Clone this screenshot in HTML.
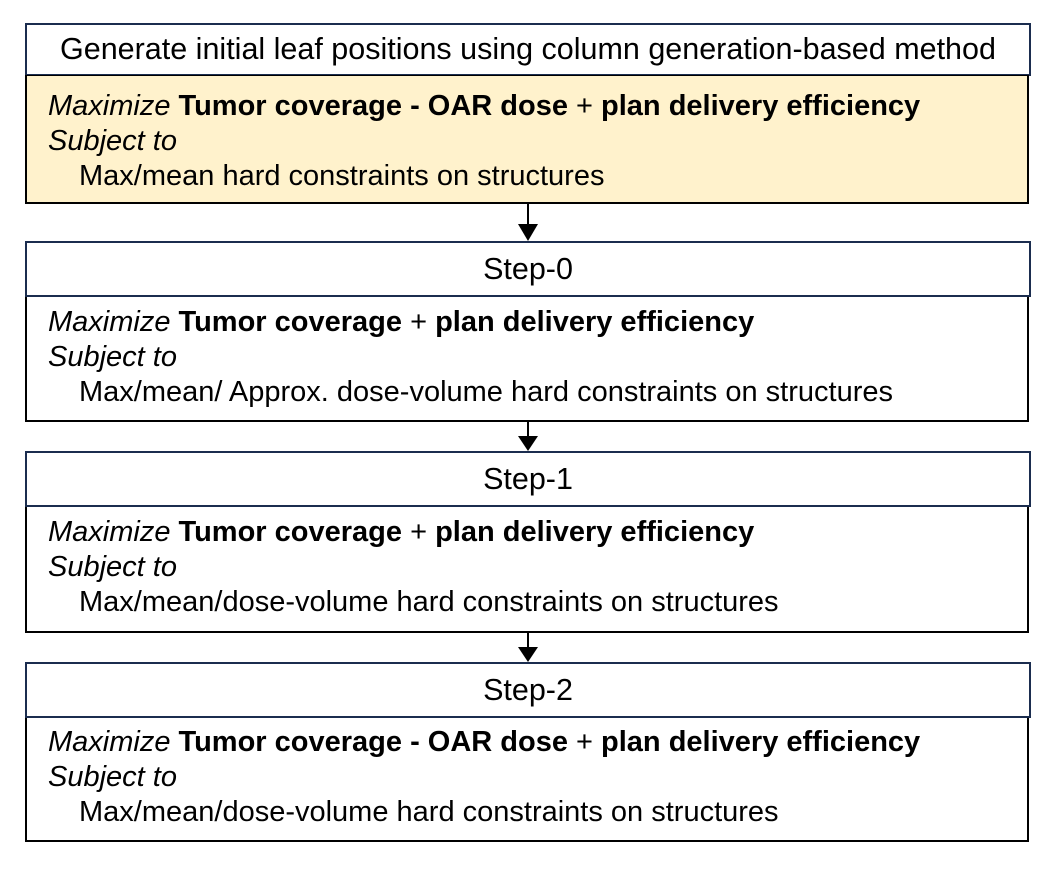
<!DOCTYPE html>
<html><head><style>
body{margin:0;width:1046px;height:869px;background:#fff;position:relative;font-family:"Liberation Sans",Arial,sans-serif;font-size:29px;color:#000;overflow:hidden}
.h{position:absolute;left:25px;width:1006px;border:2px solid #1b2d4f;background:#fff;text-align:center;box-sizing:border-box;font-size:30.5px}
.b{position:absolute;left:25px;width:1004px;border:2px solid #000;border-top:none;box-sizing:border-box;padding-left:21px;line-height:35px;padding-top:13px;font-size:29px}
.i{font-style:italic}
.ind{padding-left:31px}
.a{position:absolute;left:527px;width:1.5px;background:#000}
.t{position:absolute;left:518px;width:0;height:0;border-left:10px solid transparent;border-right:10px solid transparent;border-top:17px solid #000}
</style></head><body>
<div class="h" style="top:23px;height:53px;line-height:49px">Generate initial leaf positions using column generation-based method</div>
<div class="b" style="top:75px;height:129px;background:#fff2cc;border-top:1px solid #000"><span class="i">Maximize</span> <b>Tumor coverage - OAR dose</b> + <b>plan delivery efficiency</b><br><span class="i">Subject to</span><br><span class="ind">Max/mean hard constraints on structures</span></div>
<div class="a" style="top:204px;height:22px"></div><div class="t" style="top:224px"></div>
<div class="h" style="top:241px;height:56px;line-height:52px">Step-0</div>
<div class="b" style="top:297px;height:125px;padding-top:8px"><span class="i">Maximize</span> <b>Tumor coverage</b> + <b>plan delivery efficiency</b><br><span class="i">Subject to</span><br><span class="ind">Max/mean/ Approx. dose-volume hard constraints on structures</span></div>
<div class="a" style="top:422px;height:16px"></div><div class="t" style="top:436px;border-top-width:15px"></div>
<div class="h" style="top:451px;height:56px;line-height:52px">Step-1</div>
<div class="b" style="top:507px;height:126px;padding-top:8px"><span class="i">Maximize</span> <b>Tumor coverage</b> + <b>plan delivery efficiency</b><br><span class="i">Subject to</span><br><span class="ind">Max/mean/dose-volume hard constraints on structures</span></div>
<div class="a" style="top:633px;height:16px"></div><div class="t" style="top:647px;border-top-width:15px"></div>
<div class="h" style="top:662px;height:56px;line-height:52px">Step-2</div>
<div class="b" style="top:718px;height:124px;padding-top:7px"><span class="i">Maximize</span> <b>Tumor coverage - OAR dose</b> + <b>plan delivery efficiency</b><br><span class="i">Subject to</span><br><span class="ind">Max/mean/dose-volume hard constraints on structures</span></div>
</body></html>
